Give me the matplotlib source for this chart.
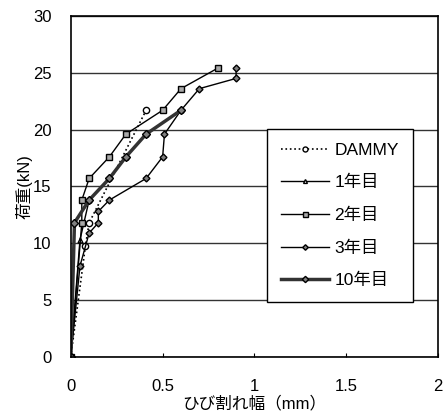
import matplotlib
matplotlib.use("Agg")
import matplotlib.pyplot as plt

plt.rcParams['font.family'] = ['Liberation Sans', 'Noto Sans CJK JP', 'DejaVu Sans']

# データ
x_dammy = [0, 0.08, 0.10, 0.41]
y_dammy = [0, 9.8, 11.8, 21.7]

x_1 = [0, 0.05, 0.10, 0.21, 0.30, 0.41, 0.60]
y_1 = [0, 10.3, 13.8, 15.7, 17.6, 19.6, 21.7]

x_2 = [0, 0.06, 0.06, 0.10, 0.21, 0.30, 0.50, 0.60, 0.80]
y_2 = [0, 11.8, 13.8, 15.7, 17.6, 19.6, 21.7, 23.6, 25.4]

x_3 = [0, 0.05, 0.10, 0.15, 0.15, 0.21, 0.41, 0.50, 0.51, 0.60, 0.70, 0.90, 0.90]
y_3 = [0, 8.0, 10.9, 11.8, 12.8, 13.8, 15.7, 17.6, 19.6, 21.7, 23.6, 24.5, 25.4]

x_10 = [0, 0.02, 0.10, 0.21, 0.30, 0.41, 0.60]
y_10 = [0, 11.8, 13.8, 15.7, 17.6, 19.6, 21.7]

fig = plt.figure(figsize=(4.48, 4.18), dpi=100)
ax = fig.add_axes([0.158, 0.146, 0.82, 0.816])

ax.plot(x_dammy, y_dammy, linestyle=':', color='k', linewidth=1.2, marker='o',
        markersize=4.5, markerfacecolor='white', markeredgecolor='k', label='DAMMY')
ax.plot(x_1, y_1, linestyle='-', color='k', linewidth=1, marker='^',
        markersize=3.5, markerfacecolor='white', markeredgecolor='k', label='1年目')
ax.plot(x_2, y_2, linestyle='-', color='k', linewidth=1, marker='s',
        markersize=4.5, markerfacecolor='darkgray', markeredgecolor='k', label='2年目')
ax.plot(x_3, y_3, linestyle='-', color='k', linewidth=1, marker='D',
        markersize=3.5, markerfacecolor='gray', markeredgecolor='k', label='3年目')
ax.plot(x_10, y_10, linestyle='-', color='#333333', linewidth=2.5, marker='D',
        markersize=4, markerfacecolor='gray', markeredgecolor='k', label='10年目')

ax.set_xlim(0, 2)
ax.set_ylim(0, 30)
ax.set_xticks([0, 0.5, 1, 1.5, 2])
ax.set_xticklabels(['0', '0.5', '1', '1.5', '2'])
ax.set_yticks([0, 5, 10, 15, 20, 25, 30])
ax.tick_params(direction='in', length=3, labelsize=12, pad=16, colors='k')
ax.tick_params(axis='y', length=0, pad=14)
ax.yaxis.grid(True, color='#333333', linewidth=1)
ax.set_axisbelow(True)
for s in ax.spines.values():
    s.set_linewidth(1.2)

ax.set_xlabel('ひび割れ幅（mm）', fontsize=12, labelpad=1)
ax.set_ylabel('荷重(kN)', fontsize=12, labelpad=0)

leg = ax.legend(loc='upper left', bbox_to_anchor=(0.51, 0.695), fontsize=12.5,
                frameon=True, fancybox=False, edgecolor='k', framealpha=1,
                handlelength=2.8, labelspacing=1.0, borderpad=0.8, handletextpad=0.3,
                markerscale=0.8)
leg.get_frame().set_linewidth(1)

fig.savefig('out.png', dpi=100)
